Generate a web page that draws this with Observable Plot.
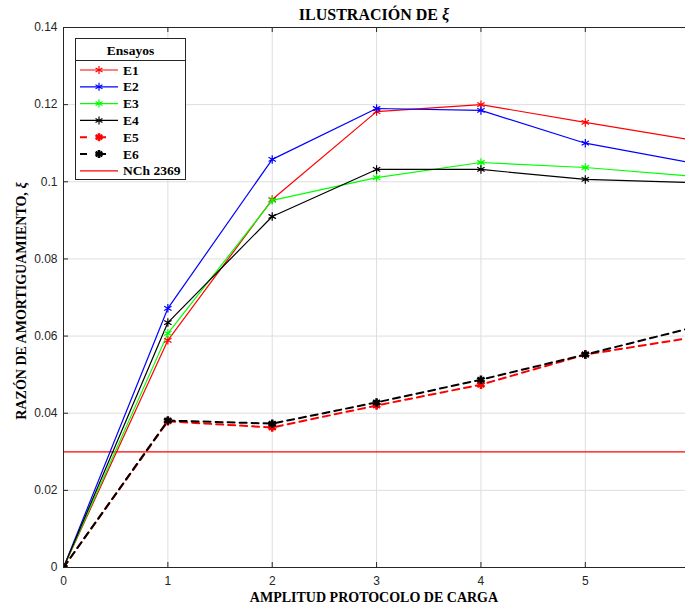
<!DOCTYPE html>
<html><head><meta charset="utf-8">
<script src="https://cdn.jsdelivr.net/npm/d3@7"></script>
<script src="https://cdn.jsdelivr.net/npm/@observablehq/plot@0.6"></script>
<style>
body{margin:0;background:#fff;}
#wrap{position:relative;width:685px;height:607px;overflow:hidden;}
.serif{font-family:"Liberation Serif","Times New Roman",serif;font-weight:bold;color:#000;}
#ttl{position:absolute;left:63px;width:622px;top:6px;text-align:center;font-size:16px;line-height:18px;}
#xlab{position:absolute;left:63px;width:622px;top:592px;height:12px;text-align:center;font-size:14px;line-height:12px;}
#ylab{position:absolute;left:22px;top:301px;transform:translate(-50%,-50%) rotate(-90deg);white-space:nowrap;font-size:14px;line-height:16px;}
#legend{position:absolute;left:75px;top:38px;}
#chart{position:absolute;left:0;top:0;}
</style></head>
<body>
<div id="wrap">
  <div id="chart"></div>
  <div id="ttl" class="serif">ILUSTRACIÓN DE <i>ξ</i></div>
  <div id="xlab" class="serif">AMPLITUD PROTOCOLO DE CARGA</div>
  <div id="ylab" class="serif">RAZÓN DE AMORTIGUAMIENTO, <i>ξ</i></div>
  <div id="legend"></div>
</div>
<script>
// ---- data ----
const amplitud = [0, 1, 2, 3, 4, 5, 6];
const E1 = [0, 0.0589, 0.0954, 0.1182, 0.1200, 0.1154, 0.1109];
const E2 = [0, 0.0672, 0.1058, 0.1190, 0.1185, 0.1100, 0.1050];
const E3 = [0, 0.0607, 0.0952, 0.1011, 0.1050, 0.1037, 0.1015];
const E4 = [0, 0.0635, 0.0910, 0.1032, 0.1032, 0.1006, 0.0998];
const E5 = [0, 0.0379, 0.0363, 0.0420, 0.0474, 0.0552, 0.0595];
const E6 = [0, 0.0381, 0.0373, 0.0428, 0.0487, 0.0552, 0.0620];
const nch2369 = 0.03;
const seriesNames = ["E1", "E2", "E3", "E4", "E5", "E6"];
const xTicks = [0, 1, 2, 3, 4, 5];
const yTicks = [0, 0.02, 0.04, 0.06, 0.08, 0.1, 0.12, 0.14];
const legendTitle = "Ensayos";
const refName = "NCh 2369";

// ---- styles ----
const styles = {
  E1: {color: "#ff0000", dash: null, w: 1.2, mw: 1.2},
  E2: {color: "#0000ff", dash: null, w: 1.2, mw: 1.2},
  E3: {color: "#00ff00", dash: null, w: 1.2, mw: 1.2},
  E4: {color: "#000000", dash: null, w: 1.2, mw: 1.2},
  E5: {color: "#ff0000", dash: "7,5", w: 2, mw: 2.6},
  E6: {color: "#000000", dash: "7,5", w: 2, mw: 2.6}
};
const values = {E1, E2, E3, E4, E5, E6};
const rows = seriesNames.map(s => amplitud.map((x, i) => ({serie: s, x, y: values[s][i]})));

const W = 685, H = 607, mL = 63, mR = 0, mT = 27, mB = 40;
const xMax = 5.96;
const pxX = (W - mL - mR) / xMax;
const pxY = (H - mT - mB) / 0.14;
const tl = 5; // inward tick length px

const marks = [
  Plot.gridX(xTicks, {stroke: "#dedede", strokeOpacity: 1}),
  Plot.gridY(yTicks, {stroke: "#dedede", strokeOpacity: 1}),
  Plot.ruleY([nch2369], {stroke: "#ff0000", strokeWidth: 1.2})
];
for (const data of rows) {
  const st = styles[data[0].serie];
  marks.push(Plot.line(data, {x: "x", y: "y", stroke: st.color, strokeWidth: st.w, strokeDasharray: st.dash, clip: true}));
}
for (const data of rows) {
  const st = styles[data[0].serie];
  marks.push(Plot.dot(data, {x: "x", y: "y", symbol: "asterisk", r: 4, stroke: st.color, strokeWidth: st.mw, clip: true}));
}
marks.push(
  Plot.ruleX([0], {stroke: "#262626", strokeWidth: 1}),
  Plot.ruleY([0, 0.14], {stroke: "#262626", strokeWidth: 1}),
  Plot.ruleX(xTicks, {y1: 0, y2: tl / pxY, stroke: "#262626"}),
  Plot.ruleX(xTicks, {y1: 0.14, y2: 0.14 - tl / pxY, stroke: "#262626"}),
  Plot.ruleY(yTicks, {x1: 0, x2: tl / pxX, stroke: "#262626"}),
  Plot.axisX(xTicks, {tickSize: 0, tickPadding: 9, label: null, fontSize: 12, color: "#262626"}),
  Plot.axisY(yTicks, {tickSize: 0, tickPadding: 6, label: null, fontSize: 12, tickFormat: d => String(+d.toFixed(2)), color: "#262626"})
);

const chart = Plot.plot({
  width: W, height: H,
  marginLeft: mL, marginRight: mR, marginTop: mT, marginBottom: mB,
  x: {domain: [0, xMax]},
  y: {domain: [0, 0.14]},
  style: {fontFamily: "'Liberation Sans', Arial, sans-serif", background: "#fff", overflow: "visible"},
  marks
});
document.getElementById("chart").appendChild(chart);

// ---- legend ----
const lw = 111, lh = 142;
const entries = [...seriesNames.map(s => ({name: s, ...styles[s], marker: true})),
  {name: refName, color: "#ff0000", dash: null, w: 1.2, marker: false}];
const ff = "Liberation Serif, Times New Roman, serif";
let svg = `<svg width="${lw}" height="${lh}" xmlns="http://www.w3.org/2000/svg">`;
svg += `<rect x="0.5" y="0.5" width="${lw - 1}" height="${lh - 1}" fill="#fff" stroke="#262626"/>`;
svg += `<text x="${lw / 2}" y="16.5" text-anchor="middle" font-family="${ff}" font-weight="bold" font-size="13.5">${legendTitle}</text>`;
svg += `<line x1="0" x2="${lw}" y1="22.5" y2="22.5" stroke="#262626"/>`;
const star = (cx, cy, r, c, w) => {
  let p = "";
  for (let k = 0; k < 3; k++) {
    const a = Math.PI / 3 * k + Math.PI / 2;
    p += `<line x1="${cx + r * Math.cos(a)}" y1="${cy + r * Math.sin(a)}" x2="${cx - r * Math.cos(a)}" y2="${cy - r * Math.sin(a)}" stroke="${c}" stroke-width="${w}"/>`;
  }
  return p;
};
entries.forEach((e, i) => {
  const y = 32 + i * 16.8;
  svg += `<line x1="5" x2="43" y1="${y}" y2="${y}" stroke="${e.color}" stroke-width="${e.w}" ${e.dash ? 'stroke-dasharray="7,12"' : ''}/>`;
  if (e.marker) svg += star(24, y, 4, e.color, e.mw);
  svg += `<text x="48" y="${y + 4.5}" font-family="${ff}" font-weight="bold" font-size="13.5">${e.name}</text>`;
});
svg += `</svg>`;
document.getElementById("legend").innerHTML = svg;
</script>
</body></html>
